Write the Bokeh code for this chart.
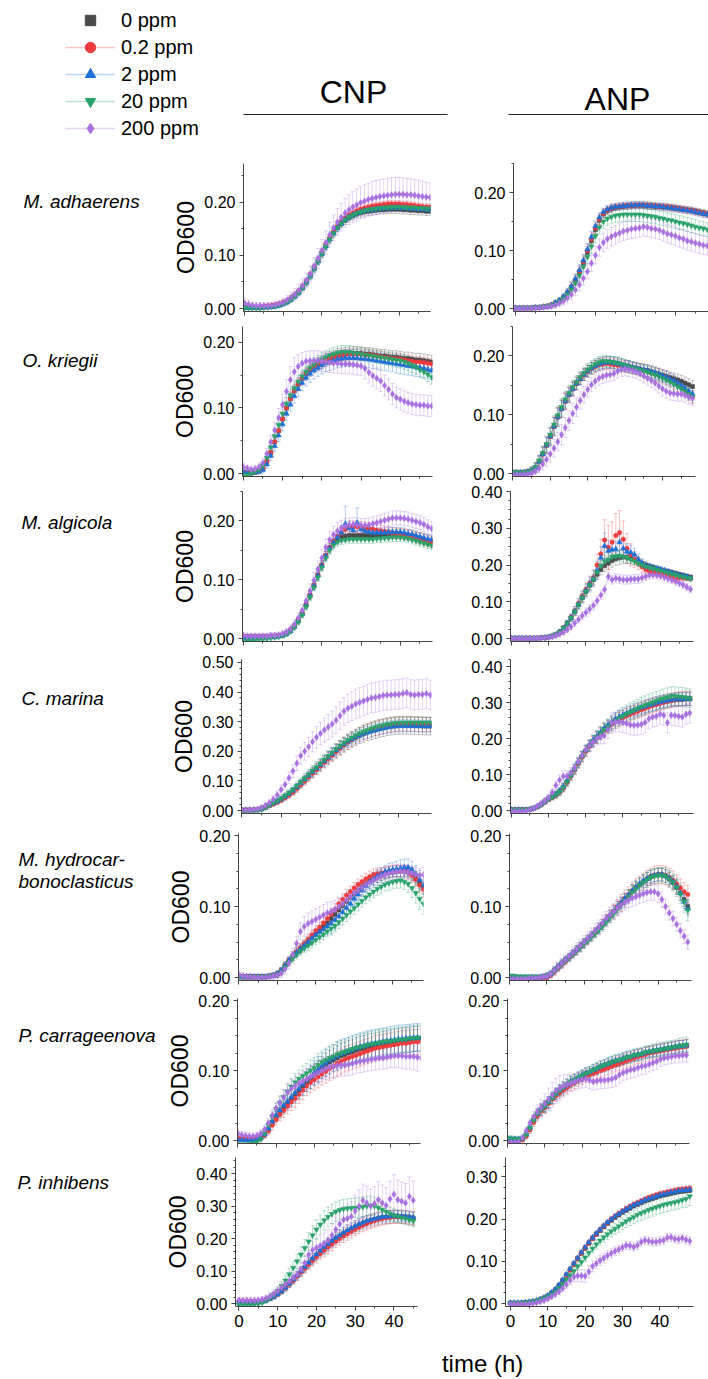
from bokeh.plotting import figure
from bokeh.layouts import column, row
from bokeh.models import (Range1d, FixedTicker, NumeralTickFormatter, Whisker, TeeHead,
                          ColumnDataSource, Legend, LegendItem)
from bokeh.core.properties import value
from bokeh.embed import file_html
from bokeh.resources import INLINE

FONT = "Liberation Sans"
NAN = float("nan")

# ---------------- data (OD600 in units of 0.001) ----------------
hours_48 = [0,1,2,3,4,5,6,7,8,9,10,11,12,13,14,15,16,17,18,19,20,21,22,23,24,25,26,27,28,29,30,31,32,33,34,35,36,37,38,39,40,41,42,43,44,45,46,47,48]
hours_45 = [0,1,2,3,4,5,6,7,8,9,10,11,12,13,14,15,16,17,18,19,20,21,22,23,24,25,26,27,28,29,30,31,32,33,34,35,36,37,38,39,40,41,42,43,44,45]

series_labels = ["0 ppm", "0.2 ppm", "2 ppm", "20 ppm", "200 ppm"]
series_colors = ["#4a4a4a", "#ee3b3e", "#1f6fd8", "#2aa36b", "#a970e0"]
series_markers = ["square", "circle", "triangle", "inverted_triangle", "diamond"]
species_names = ["M. adhaerens", "O. kriegii", "M. algicola", "C. marina",
                 "M. hydrocar-|bonoclasticus", "P. carrageenova", "P. inhibens"]
column_titles = ["CNP", "ANP"]
x_tick_values = [0, 10, 20, 30, 40]
x_minor_values = [5, 15, 25, 35, 45]

# M. adhaerens, CNP
adh_cnp_0 = [2,2,2,2,2,3,3,4,5,7, 10,13,18,24,31,40,50,62,76,90, 104,118,131,142,152,160,166,171,175,178, 180,182,183,184,185,186,186,187,187,187, 187,186,186,185,185,184,184,183,183]
adh_cnp_02 = [3,3,3,3,3,4,5,6,7,9, 12,15,20,26,33,42,52,64,78,92, 106,120,133,145,155,163,170,176,180,184, 187,189,191,193,194,195,196,197,197,197, 197,196,196,195,194,193,192,191,191]
adh_cnp_2 = [1,1,1,1,1,2,2,3,4,6, 9,12,17,23,30,39,49,61,75,89, 103,117,130,142,152,160,167,172,176,179, 182,184,185,186,187,188,189,189,190,190, 190,189,189,188,188,187,187,186,186]
adh_cnp_20 = [1,1,1,1,1,2,2,3,4,6, 9,12,17,23,30,39,49,61,75,89, 103,117,130,142,152,160,167,172,176,179, 182,184,186,187,188,189,190,190,191,191, 191,191,190,190,190,189,189,188,188]
adh_cnp_200 = [10,8,6,5,5,5,5,6,7,9, 12,16,21,27,34,43,53,65,79,94, 109,124,139,152,163,172,180,186,191,195, 199,202,205,207,209,211,212,213,214,215, 215,215,214,214,213,212,211,210,209]
adh_cnp_0_sd = [2,2,2,2,2,2,2,2,2,3, 3,3,4,4,5,5,6,6,7,7, 7,7,8,8,8,8,8,8,8,8, 8,8,8,8,8,8,8,8,8,8, 8,8,8,8,8,8,8,8,8]
adh_cnp_02_sd = [3,3,3,3,3,3,3,3,3,3, 4,4,4,5,5,6,6,6,7,7, 7,7,7,7,6,6,6,6,6,6, 6,6,6,6,6,6,6,6,6,6, 6,6,6,6,6,6,6,6,6]
adh_cnp_2_sd = [2,2,2,2,2,2,2,2,2,3, 3,4,4,5,5,6,7,7,8,8, 8,8,8,7,7,6,6,6,6,6, 6,6,6,6,6,6,6,6,6,6, 6,6,6,6,6,6,6,6,6]
adh_cnp_20_sd = [2,2,2,2,2,2,2,2,2,3, 3,3,4,4,5,5,6,6,6,6, 6,6,6,6,6,5,5,5,5,5, 5,5,5,5,5,5,5,5,5,5, 5,5,5,5,5,5,5,5,5]
adh_cnp_200_sd = [10,8,6,6,6,6,6,6,6,7, 8,9,10,11,12,13,14,15,17,19, 21,22,23,24,25,26,27,28,29,30, 30,31,31,32,32,32,32,32,32,32, 32,31,31,30,30,30,29,28,27]

# M. adhaerens, ANP
adh_anp_0 = [1,1,1,1,1,2,2,3,4,6, 9,13,19,27,37,49,63,79,97,117, 136,152,163,169,172,174,175,176,177,177, 178,178,178,177,177,176,176,175,175,174, 173,172,171,170,169,168,166,165,163]
adh_anp_02 = [1,1,1,1,1,2,2,3,4,6, 9,13,19,27,37,49,64,81,100,120, 139,154,164,170,173,175,176,177,177,178, 178,178,178,178,177,177,176,176,175,174, 173,172,171,170,169,167,166,164,163]
adh_anp_2 = [1,1,1,1,1,2,2,3,4,6, 10,14,20,28,38,51,66,83,102,123, 142,157,166,171,174,175,176,177,177,178, 178,178,178,177,177,176,176,175,174,173, 172,171,170,169,168,166,165,163,162]
adh_anp_20 = [1,1,1,1,1,2,2,3,4,5, 8,12,17,24,33,44,57,72,89,107, 125,140,150,155,158,160,161,162,162,162, 162,162,161,160,159,158,156,155,153,152, 150,148,147,145,143,141,139,138,136]
adh_anp_200 = [0,0,0,0,0,1,1,2,3,4, 6,9,13,18,24,32,41,52,64,78, 92,105,114,120,124,127,130,133,135,137, 138,139,141,140,138,137,135,132,129,127, 125,122,120,117,115,113,111,109,108]
adh_anp_0_sd = [2,2,2,2,2,2,2,2,3,3, 4,4,5,6,7,8,9,10,10,10, 9,8,7,6,6,5,5,5,5,5, 5,5,5,5,5,5,5,5,5,5, 5,5,5,5,5,5,5,5,5]
adh_anp_02_sd = [3,3,3,3,3,3,3,3,3,3, 4,5,6,7,8,9,10,11,11,11, 10,9,8,7,7,6,6,6,6,6, 6,6,6,6,6,6,6,6,6,6, 6,6,6,6,6,6,6,6,6]
adh_anp_2_sd = [2,2,2,2,2,2,2,2,3,3, 4,5,6,7,8,9,10,10,10,10, 9,8,7,6,6,6,6,6,6,6, 6,6,6,6,6,6,6,6,6,6, 6,6,6,6,6,6,6,6,6]
adh_anp_20_sd = [2,2,2,2,2,2,2,2,3,3, 4,5,6,7,8,9,10,11,12,12, 12,12,12,12,12,12,12,12,12,12, 12,12,12,12,12,12,12,12,12,12, 12,12,12,12,12,12,12,12,12]
adh_anp_200_sd = [3,3,3,3,3,3,3,3,4,4, 5,6,7,8,9,10,11,12,13,14, 15,15,16,16,16,16,16,16,16,16, 16,16,16,16,16,16,16,16,16,16, 16,16,16,16,16,16,16,16,16]

# O. kriegii, CNP
kri_cnp_0 = [2,1,1,2,4,8,18,32,48,65, 83,100,114,126,136,145,152,158,163,167, 170,173,176,178,180,181,182,183,183,183, 183,182,182,181,180,179,179,178,177,177, 176,175,175,174,173,173,172,171,170]
kri_cnp_02 = [2,1,1,2,4,8,18,32,48,65, 83,100,114,126,136,145,152,158,163,167, 170,173,175,177,179,180,181,182,182,182, 182,181,181,180,179,178,177,176,175,175, 174,173,172,171,170,170,169,168,167]
kri_cnp_2 = [2,1,1,2,3,6,14,27,42,58, 75,91,105,118,129,138,146,152,157,161, 165,168,170,172,174,175,176,176,176,176, 175,175,174,173,172,171,170,169,168,167, 166,165,164,163,162,161,160,158,157]
kri_cnp_20 = [-3,-2,0,3,6,12,24,40,57,74, 91,106,119,130,140,148,155,161,166,170, 174,177,180,182,184,185,185,185,184,183, 182,181,180,179,178,177,176,175,174,173, 172,170,168,165,162,158,155,151,147]
kri_cnp_200 = [10,8,6,7,10,16,30,48,66,85, 105,125,143,155,163,168,171,172,172,172, 171,170,169,168,168,167,167,167,166,165, 164,160,154,149,145,141,134,128,121,116, 113,110,108,106,105,104,104,103,103]
kri_cnp_0_sd = [3,3,3,3,4,5,6,7,8,9, 10,10,10,10,10,10,10,10,10,10, 10,10,10,10,10,10,10,10,10,10, 10,10,10,10,10,10,10,10,10,10, 10,10,10,10,10,10,10,10,10]
kri_cnp_02_sd = [3,3,3,3,4,5,6,7,7,8, 8,8,8,8,8,8,8,8,8,8, 8,8,8,8,8,8,8,8,8,8, 8,8,8,8,8,8,8,8,8,8, 8,8,8,8,8,8,8,8,8]
kri_cnp_2_sd = [3,3,3,3,4,5,6,7,8,9, 10,10,10,11,12,12,13,13,13,13, 13,13,13,13,13,13,13,13,13,13, 13,13,13,13,13,13,13,13,13,14, 14,14,14,14,14,14,14,14,14]
kri_cnp_20_sd = [4,4,4,4,4,5,6,7,8,9, 10,10,10,10,10,10,10,10,10,10, 10,10,10,10,10,10,10,10,10,10, 10,10,10,10,10,10,10,10,11,11, 11,11,11,11,11,11,11,11,11]
kri_cnp_200_sd = [6,5,5,5,6,7,8,10,12,14, 16,18,20,22,18,16,15,15,15,15, 15,15,15,15,15,15,15,15,15,15, 15,16,16,16,16,16,16,16,16,16, 16,16,16,16,16,16,16,16,16]

# O. kriegii, ANP
kri_anp_0 = [2,2,2,2,3,5,10,20,33,48, 63,80,96,110,123,134,144,153,161,168, 174,179,183,186,188,189,189,188,187,185, 183,182,180,179,177,176,175,173,171,169, 167,165,163,161,159,157,154,151,148]
kri_anp_02 = [2,2,2,2,3,5,10,20,33,48, 63,80,96,110,123,134,144,153,161,168, 174,179,182,185,186,187,186,185,184,183, 182,181,179,178,176,175,173,171,169,167, 165,162,159,155,151,146,141,135,130]
kri_anp_2 = [2,2,2,2,3,5,10,20,33,48, 63,80,96,110,123,134,144,153,161,168, 174,179,183,186,188,189,189,188,187,185, 183,182,180,179,177,176,175,173,171,169, 166,164,161,158,154,150,145,140,135]
kri_anp_20 = [2,2,2,2,3,5,11,22,35,50, 66,83,99,113,126,137,147,156,164,171, 177,182,186,189,191,191,190,189,188,186, 184,182,180,178,176,174,172,170,168,165, 162,159,156,152,148,144,140,135,131]
kri_anp_200 = [-2,-2,-2,-2,-1,1,4,9,16,24, 33,43,54,66,78,90,102,113,124,134, 143,151,157,162,165,167,168,170,174,177, 178,177,175,173,170,166,162,158,154,149, 144,140,137,136,135,135,133,130,128]
kri_anp_0_sd = [3,3,3,3,4,6,8,10,12,14, 15,16,16,15,14,13,12,11,10,10, 10,10,10,10,10,10,10,10,10,10, 10,10,10,10,10,10,10,10,10,10, 10,10,10,10,10,10,10,10,10]
kri_anp_02_sd = [3,3,3,3,4,6,8,10,12,14, 15,16,16,15,14,13,12,11,10,10, 10,10,10,10,10,10,10,10,10,10, 10,10,10,10,10,10,10,11,11,11, 11,11,11,11,11,11,11,11,11]
kri_anp_2_sd = [3,3,3,3,4,6,8,10,12,13, 14,15,15,14,13,12,11,10,10,10, 10,10,10,10,10,10,10,10,10,10, 10,10,10,10,10,10,10,10,10,10, 10,10,10,10,10,10,10,10,10]
kri_anp_20_sd = [3,3,3,3,4,6,8,10,12,14, 15,16,16,15,14,13,12,11,10,10, 10,10,10,10,10,10,10,10,10,10, 10,10,10,10,10,10,10,10,10,10, 10,10,10,10,10,10,10,10,10]
kri_anp_200_sd = [3,3,3,3,4,5,6,8,10,12, 14,15,16,17,17,17,17,16,15,14, 13,12,12,12,12,12,12,12,12,12, 12,12,12,12,12,12,12,12,12,12, 12,12,12,12,12,12,12,12,12]

# M. algicola, CNP
alg_cnp_0 = [3,3,3,3,3,3,3,4,4,5, 6,9,14,21,31,43,58,74,91,108, 125,141,154,163,169,172,174,175,175,175, 175,175,175,175,176,176,177,178,178,178, 178,177,176,175,173,171,169,167,165]
alg_cnp_02 = [3,3,3,3,3,3,3,4,4,5, 6,9,14,21,31,43,58,74,91,108, 125,141,155,166,174,180,186,189,190,190, 189,188,187,186,184,183,182,181,180,179, 178,177,176,174,172,170,168,166,164]
alg_cnp_2 = [2,2,2,2,2,2,2,3,3,4, 5,8,13,20,30,42,57,73,90,107, 124,140,153,163,172,180,195,188,184,197, 186,183,181,180,180,180,180,181,181,181, 181,180,178,177,175,173,171,169,168]
alg_cnp_20 = [-4,-4,-3,-3,-2,-1,0,1,2,3, 5,8,12,19,28,40,54,70,87,104, 121,137,150,159,164,167,168,169,169,169, 169,169,169,169,170,170,171,171,172,172, 172,171,170,168,166,164,162,160,158]
alg_cnp_200 = [5,4,4,4,4,4,4,5,5,6, 8,11,16,24,35,48,64,81,99,118, 137,155,168,177,183,188,191,193,194,193, 192,192,193,195,197,199,201,203,205,205, 205,204,203,201,199,197,194,190,187]
alg_cnp_0_sd = [3,3,3,3,3,3,3,3,3,3, 3,3,4,4,5,5,6,6,7,7, 7,7,7,7,8,8,8,8,8,8, 8,8,8,8,8,8,8,8,8,8, 8,8,8,8,8,9,9,9,9]
alg_cnp_02_sd = [3,3,3,3,3,3,3,3,3,3, 3,4,4,5,5,6,6,7,7,8, 8,8,8,8,9,9,10,10,10,10, 10,10,10,9,9,9,9,9,9,9, 9,9,9,9,9,9,9,9,9]
alg_cnp_2_sd = [3,3,3,3,3,3,3,3,3,3, 3,4,4,5,5,6,6,7,7,8, 8,8,8,8,9,12,30,12,10,25, 10,9,8,8,8,8,8,8,8,8, 8,8,8,8,8,8,8,8,8]
alg_cnp_20_sd = [3,3,3,3,3,3,3,3,3,3, 3,3,4,4,5,5,6,6,6,7, 7,7,7,7,7,7,7,7,7,7, 7,7,7,7,7,7,7,7,7,7, 7,7,7,7,7,7,7,7,7]
alg_cnp_200_sd = [5,5,5,5,5,5,5,5,5,5, 5,6,7,8,9,10,11,12,13,14, 14,14,14,14,14,13,13,12,12,12, 12,12,12,12,12,12,12,12,12,12, 12,12,12,12,12,12,12,12,12]

# M. algicola, ANP
alg_anp_0 = [1,1,1,1,1,1,1,1,2,2, 4,7,11,18,28,41,56,73,92,111, 128,145,160,175,188,198,205,212,217,220, 222,221,218,214,209,204,200,196,193,190, 187,184,182,179,177,174,172,169,167]
alg_anp_02 = [1,1,1,1,1,1,1,1,2,2, 4,7,11,18,28,41,57,75,95,115, 133,150,165,200,230,268,248,262,280,288, 270,245,228,215,205,195,188,182,180,178, 176,173,170,167,160,166,165,164,163]
alg_anp_2 = [1,1,1,1,1,1,1,1,2,2, 4,7,11,18,28,41,56,74,93,112, 130,147,163,185,220,252,238,242,243,262, 245,236,234,228,215,205,198,195,192,190, 188,185,182,179,176,173,170,168,165]
alg_anp_20 = [1,1,1,1,1,1,1,1,2,2, 4,7,11,18,28,41,56,73,92,111, 128,145,162,180,198,210,215,222,224,225, 222,220,215,210,205,200,196,193,190,187, 184,181,178,175,173,170,168,165,163]
alg_anp_200 = [0,0,0,0,0,0,0,1,1,2, 3,5,8,12,17,24,32,42,52,62, 71,80,90,103,118,133,169,160,164,162, 160,160,161,162,162,165,169,172,173,172, 170,167,163,159,155,151,146,140,134]
alg_anp_0_sd = [2,2,2,2,2,2,2,2,2,2, 3,3,4,5,6,7,8,9,10,11, 12,12,13,14,15,16,17,18,18,18, 18,17,15,13,11,10,9,8,8,7, 7,7,6,6,6,6,6,6,6]
alg_anp_02_sd = [2,2,2,2,2,2,2,2,2,2, 3,3,4,5,6,8,10,12,14,16, 18,20,22,30,40,55,60,55,60,60, 50,40,30,22,18,14,12,10,9,8, 8,7,7,7,7,7,7,7,7]
alg_anp_2_sd = [2,2,2,2,2,2,2,2,2,2, 3,3,4,5,6,8,10,12,14,16, 18,20,22,25,30,35,30,25,22,30, 25,22,20,18,15,12,10,9,8,8, 7,7,7,7,7,7,7,7,7]
alg_anp_20_sd = [2,2,2,2,2,2,2,2,2,2, 3,3,4,5,6,7,8,9,10,11, 12,12,13,14,15,15,15,15,14,14, 13,12,11,10,9,9,8,8,8,7, 7,7,7,7,7,7,7,7,7]
alg_anp_200_sd = [2,2,2,2,2,2,2,2,2,2, 3,3,4,5,6,7,8,9,10,11, 12,12,12,12,12,12,12,12,12,12, 12,12,12,12,12,12,11,11,10,10, 10,10,10,10,10,10,10,10,10]

# C. marina, CNP
mar_cnp_0 = [2,2,2,2,3,6,11,18,24,30, 37,46,55,66,78,91,104,117,129,141, 153,166,178,190,202,213,223,232,240,247, 254,260,265,269,273,277,280,283,285,287, 288,288,288,288,287,287,286,285,285]
mar_cnp_02 = [2,2,2,2,3,5,10,16,22,28, 35,43,52,62,74,87,100,113,126,138, 150,163,175,187,199,210,221,231,240,248, 256,263,268,273,277,281,284,287,289,291, 292,292,292,292,291,291,290,290,290]
mar_cnp_2 = [2,2,2,2,3,6,11,18,25,31, 38,47,56,67,79,92,105,118,130,142, 154,167,179,191,203,214,224,233,241,248, 254,260,264,268,272,275,278,281,283,285, 286,286,286,286,286,285,285,285,285]
mar_cnp_20 = [-4,-4,-3,-2,0,4,10,18,26,33, 41,50,60,71,83,96,109,122,135,147, 159,172,184,196,208,219,229,238,246,254, 261,267,272,277,281,285,288,291,293,295, 296,297,297,297,297,297,297,297,297]
mar_cnp_200 = [2,2,2,3,5,10,17,26,38,52, 70,88,110,133,160,185,200,215,232,247, 260,272,282,292,305,320,335,345,352,360, 365,370,375,380,382,385,388,390,390,392, 392,395,398,392,390,392,392,395,390]
mar_cnp_0_sd = [3,3,3,3,3,4,5,6,7,8, 9,10,11,12,13,14,15,16,17,18, 19,20,21,22,23,24,25,26,27,28, 28,29,29,30,30,30,30,30,30,30, 30,30,30,30,30,30,30,30,30]
mar_cnp_02_sd = [3,3,3,3,3,4,5,6,7,8, 9,10,11,12,13,14,15,16,17,18, 19,20,21,22,23,24,24,24,24,24, 24,24,24,24,24,24,24,24,24,24, 24,24,24,24,24,24,24,24,24]
mar_cnp_2_sd = [3,3,3,3,3,4,5,6,7,8, 9,10,10,11,12,13,14,15,16,17, 18,18,19,19,20,20,20,20,20,20, 20,20,20,20,20,20,20,20,20,20, 20,20,20,20,20,20,20,20,20]
mar_cnp_20_sd = [4,4,4,4,4,5,6,7,8,9, 10,11,12,13,14,15,16,17,17,18, 18,18,18,18,18,18,18,18,18,18, 18,18,18,18,18,18,18,18,18,18, 18,18,18,18,18,18,18,18,18]
mar_cnp_200_sd = [4,4,4,4,5,6,8,10,12,14, 16,18,20,22,25,28,30,32,34,36, 38,40,42,44,45,46,47,48,49,50, 50,50,50,50,50,50,50,50,50,50, 50,50,50,50,50,50,50,50,50]

# C. marina, ANP
mar_anp_0 = [2,2,2,2,2,3,6,10,16,24, 32,38,44,52,64,80,97,114,132,150, 166,180,193,204,215,225,234,242,250,256, 261,266,271,275,279,283,287,291,294,297, 300,302,304,306,308,309,309,310,310]
mar_anp_02 = [2,2,2,2,2,3,6,10,16,23, 31,37,43,51,62,78,95,112,130,148, 164,178,191,202,213,223,232,240,247,253, 258,263,268,272,276,280,284,288,292,295, 298,301,304,306,308,310,311,312,312]
mar_anp_2 = [2,2,2,2,2,3,6,11,17,25, 33,39,45,54,66,82,99,116,134,152, 168,182,195,206,217,228,237,246,254,260, 265,270,275,279,283,287,290,293,296,299, 302,304,306,308,309,310,310,311,311]
mar_anp_20 = [2,2,2,2,2,3,6,10,16,24, 32,38,44,52,64,80,97,114,132,150, 166,180,193,204,215,225,234,242,250,257, 263,269,274,279,284,289,293,297,301,305, 309,312,315,318,318,317,316,314,312]
mar_anp_200 = [-2,-2,-2,-2,-1,2,6,12,19,27, 36,50,70,85,95,96,105,118,135,152, 168,180,190,200,205,208,225,243,246,247, 245,242,238,237,238,240,245,255,260,262, 268,265,244,265,264,262,260,268,271]
mar_anp_0_sd = [2,2,2,2,2,3,3,4,5,6, 7,8,9,10,11,12,12,13,13,14, 14,15,15,16,16,17,17,18,18,18, 18,18,18,18,18,18,18,18,18,18, 18,18,18,18,18,18,18,18,18]
mar_anp_02_sd = [2,2,2,2,2,3,3,4,5,6, 7,8,9,10,11,12,12,13,13,14, 14,15,15,16,16,17,17,18,19,20, 20,20,20,20,20,20,20,20,20,20, 20,20,20,20,20,20,20,20,20]
mar_anp_2_sd = [2,2,2,2,2,3,3,4,5,6, 7,8,9,10,11,12,12,13,13,14, 14,15,15,16,16,17,17,18,18,18, 18,18,18,18,18,18,18,18,18,18, 18,18,18,18,18,18,18,18,18]
mar_anp_20_sd = [2,2,2,2,2,3,3,4,5,6, 7,8,9,10,11,12,12,13,13,14, 14,15,16,17,18,19,20,21,22,23, 24,24,25,25,25,26,26,26,26,26, 26,26,26,26,26,26,26,26,26]
mar_anp_200_sd = [3,3,3,3,3,4,5,6,7,8, 9,10,12,14,15,15,14,14,14,14, 14,15,16,18,20,22,25,28,28,28, 28,28,28,28,28,28,28,28,28,28, 28,28,28,28,28,28,28,28,28]

# M. hydrocarbonoclasticus, CNP
hyd_cnp_0 = [2,1,1,1,1,1,1,1,2,3, 5,10,17,24,30,36,41,46,51,56, 61,66,72,77,83,89,95,101,107,113, 118,123,128,132,136,139,142,144,146,148, 149,150,150,150,149,146,140,133,128]
hyd_cnp_02 = [2,1,1,1,1,1,1,1,2,3, 5,10,17,24,30,36,42,48,54,60, 66,71,77,83,89,96,104,110,116,121, 126,131,135,139,142,145,146,147,148,149, 150,150,150,150,148,144,138,130,124]
hyd_cnp_2 = [1,1,1,1,1,1,1,1,2,3, 5,10,17,24,30,35,40,45,50,55, 60,64,68,72,76,81,86,92,98,104, 111,117,123,129,134,139,143,146,149,151, 152,153,154,155,155,152,146,138,130]
hyd_cnp_20 = [1,1,1,1,1,1,1,1,2,3, 4,8,15,21,27,32,37,41,45,49, 53,57,61,65,69,73,78,83,88,93, 98,103,108,113,117,121,125,128,131,133, 135,136,137,135,132,126,119,111,104]
hyd_cnp_200 = [4,2,1,1,0,0,0,0,1,2, 3,6,12,20,32,48,65,72,76,79, 82,85,88,91,93,96,100,104,109,114, 119,123,127,131,134,137,140,143,145,147, 148,149,150,149,148,147,145,144,145]
hyd_cnp_0_sd = [3,3,3,3,3,3,3,3,3,3, 4,4,5,5,6,6,6,6,6,6, 7,7,7,7,8,8,8,8,8,8, 8,8,8,8,8,8,8,8,8,8, 8,8,8,8,8,9,9,10,10]
hyd_cnp_02_sd = [3,3,3,3,3,3,3,3,3,3, 4,4,5,5,6,6,6,6,6,7, 7,7,8,8,8,8,8,8,8,8, 8,8,8,8,8,8,8,8,8,8, 8,8,8,8,8,9,9,10,10]
hyd_cnp_2_sd = [3,3,3,3,3,3,3,3,3,3, 4,4,5,5,6,6,6,6,6,7, 8,9,10,12,14,14,12,10,9,9, 9,9,9,9,9,9,9,9,9,10, 10,11,12,12,12,12,12,13,13]
hyd_cnp_20_sd = [3,3,3,3,3,3,3,3,3,3, 4,4,5,5,6,6,6,6,7,7, 7,8,8,8,9,9,9,9,9,9, 9,9,9,9,9,9,9,9,9,10, 10,10,11,11,12,13,14,15,15]
hyd_cnp_200_sd = [6,5,5,5,5,5,5,5,5,5, 5,6,7,8,9,10,12,14,15,15, 15,15,15,15,14,13,12,11,10,10, 10,10,10,10,10,10,10,10,10,10, 10,10,10,10,10,10,10,10,10]

# M. hydrocarbonoclasticus, ANP
hyd_anp_0 = [1,1,0,0,0,0,0,0,0,1, 2,5,10,15,20,25,29,34,39,44, 49,54,59,64,70,75,81,87,93,99, 105,111,116,122,127,131,135,139,142,144, 145,145,143,139,134,127,119,110,100]
hyd_anp_02 = [0,0,0,0,-1,-1,-1,-1,-1,0, 0,3,8,13,18,23,28,33,38,43, 48,53,58,63,69,75,81,87,93,99, 105,111,116,122,127,131,135,139,142,144, 145,145,144,141,137,132,126,121,117]
hyd_anp_2 = [1,1,0,0,0,0,0,0,0,1, 2,5,10,15,20,25,29,34,39,44, 49,54,59,64,70,75,81,87,93,99, 105,111,116,122,127,132,136,139,142,144, 145,145,143,140,135,128,119,107,97]
hyd_anp_20 = [2,2,1,1,1,1,1,1,1,2, 3,5,9,14,19,24,28,33,38,42, 47,52,57,62,67,72,78,84,90,96, 102,108,114,120,125,130,134,138,141,143, 144,144,143,139,134,127,118,107,95]
hyd_anp_200 = [-2,-2,-2,-2,-2,-1,-1,-1,0,1, 2,5,10,15,20,25,30,35,40,45, 50,55,60,66,71,77,83,88,93,98, 102,106,109,112,114,116,118,120,121,121, 118,110,100,91,83,75,66,58,50]
hyd_anp_0_sd = [3,3,3,3,3,3,3,3,3,3, 4,4,5,5,5,5,5,5,6,6, 6,6,6,6,7,7,7,7,8,8, 8,8,8,9,9,9,9,9,9,9, 9,9,9,9,9,10,10,10,10]
hyd_anp_02_sd = [3,3,3,3,3,3,3,3,3,3, 4,4,5,5,5,5,5,5,6,6, 6,6,6,6,7,7,8,9,10,11, 12,12,12,12,12,12,12,12,12,13, 13,13,13,13,13,13,13,13,13]
hyd_anp_2_sd = [3,3,3,3,3,3,3,3,3,3, 4,4,5,5,5,5,5,5,6,6, 6,6,6,6,7,7,7,7,8,8, 8,8,8,9,9,9,9,9,9,9, 9,9,9,9,9,10,10,10,10]
hyd_anp_20_sd = [3,3,3,3,3,3,3,3,3,3, 4,4,5,5,5,5,5,5,6,6, 6,6,6,6,7,7,7,7,8,8, 8,9,9,10,10,10,11,11,11,11, 11,11,12,12,12,13,14,15,15]
hyd_anp_200_sd = [4,4,4,4,4,4,4,4,4,4, 5,5,6,6,7,7,8,8,9,9, 9,9,10,10,10,10,10,11,11,11, 11,11,11,12,12,12,12,12,12,12, 12,11,11,10,10,10,10,10,10]

# P. carrageenova, CNP
car_cnp_0 = [2,2,2,2,2,3,5,9,16,26, 34,41,48,54,60,66,72,78,84,89, 94,99,104,108,112,115,118,121,123,125, 127,129,131,132,134,135,136,137,138,139, 140,141,142,143,143,144,145,145,146]
car_cnp_02 = [3,3,3,3,3,3,4,8,14,22, 30,37,43,49,55,60,66,72,78,83, 87,91,95,99,103,106,110,113,116,118, 120,122,124,126,128,130,132,133,134,135, 136,137,138,139,139,140,141,141,142]
car_cnp_2 = [1,1,1,1,1,2,4,9,17,27, 36,43,50,56,62,68,74,80,86,91, 97,102,107,111,115,118,121,124,126,128, 130,132,134,135,137,138,139,140,141,142, 143,144,145,145,146,146,147,147,147]
car_cnp_20 = [-6,-6,-6,-5,-4,-2,2,10,22,34, 45,54,62,70,77,83,88,92,96,100, 104,108,112,115,118,120,123,125,127,129, 131,133,134,135,137,138,139,140,141,142, 142,143,144,144,145,146,146,147,147]
car_cnp_200 = [10,8,7,6,6,7,10,16,25,36, 46,54,62,69,74,78,82,85,88,91, 94,97,100,103,105,106,107,108,108,109, 110,112,113,114,115,116,117,118,118,119, 120,121,121,121,120,120,120,119,118]
car_cnp_0_sd = [3,3,3,3,3,3,4,5,6,7, 8,9,10,11,12,13,13,14,14,15, 15,16,16,17,17,17,18,18,18,18, 18,18,18,18,18,18,18,18,18,18, 18,18,18,18,18,18,18,18,18]
car_cnp_02_sd = [4,4,4,4,4,4,4,5,6,7, 8,9,10,11,12,13,13,14,14,15, 15,16,16,17,17,17,18,18,18,18, 18,18,18,18,18,18,18,18,18,18, 18,18,18,18,18,18,18,18,18]
car_cnp_2_sd = [3,3,3,3,3,3,4,5,6,7, 8,9,10,11,12,13,14,15,16,17, 17,18,18,19,19,19,20,20,20,20, 20,20,20,20,20,20,20,20,20,20, 20,20,20,20,20,20,20,20,20]
car_cnp_20_sd = [3,3,3,3,3,3,4,5,6,7, 8,9,10,11,12,13,13,14,14,15, 15,16,16,17,17,17,18,18,18,18, 18,18,18,18,18,18,18,18,18,18, 18,18,18,18,18,18,18,18,18]
car_cnp_200_sd = [6,5,5,5,5,5,5,6,7,8, 9,10,11,12,13,14,14,15,15,16, 16,16,16,16,16,16,16,16,16,16, 16,16,16,16,16,16,16,16,16,16, 16,17,17,18,18,18,19,20,20]

# P. carrageenova, ANP
car_anp_0 = [2,1,1,1,2,8,18,29,38,44, 48,54,60,66,71,75,79,83,86,89, 92,95,97,100,102,105,107,109,111,113, 114,116,118,119,121,122,123,125,126,127, 128,129,130,131,132,133,134,134,135]
car_anp_02 = [0,0,0,0,1,6,15,26,35,42, 47,53,59,64,68,72,76,80,83,86, 89,92,94,96,98,100,102,104,106,108, 110,112,114,116,118,120,121,123,125,126, 127,128,129,130,131,132,133,134,135]
car_anp_2 = [3,2,2,2,3,9,19,30,39,45, 49,55,61,67,72,76,80,84,87,90, 93,96,98,101,103,106,108,110,112,114, 115,117,119,120,122,123,124,126,127,128, 129,130,131,132,133,134,135,135,136]
car_anp_20 = [3,3,2,2,3,8,18,29,38,44, 49,55,61,67,72,76,80,84,87,90, 93,96,98,101,103,106,108,110,112,114, 115,117,119,120,122,123,124,126,127,128, 129,130,131,132,133,134,135,136,137]
car_anp_200 = [-3,-3,-3,-2,4,14,25,34,41,47, 53,59,65,71,75,78,80,82,84,86, 87,88,86,84,85,86,86,87,88,90, 94,97,99,101,102,104,106,107,109,111, 113,116,118,119,120,121,121,122,122]
car_anp_0_sd = [3,3,3,3,3,4,5,6,7,8, 8,8,8,8,8,8,8,8,8,8, 8,8,8,8,8,8,8,8,8,8, 8,8,8,8,8,8,8,8,8,8, 8,8,8,8,8,9,9,9,9]
car_anp_02_sd = [3,3,3,3,3,4,5,6,7,8, 8,8,8,8,8,8,8,9,9,9, 9,9,9,9,10,10,10,10,10,10, 10,10,10,10,10,10,10,10,10,10, 10,10,10,10,10,10,10,10,10]
car_anp_2_sd = [3,3,3,3,3,4,5,6,7,8, 8,8,8,8,8,8,8,8,8,8, 8,8,8,8,8,8,8,8,8,8, 8,8,8,8,8,8,8,8,8,8, 8,8,8,8,8,8,8,8,8]
car_anp_20_sd = [4,4,4,4,4,4,5,6,7,8, 8,8,8,8,8,8,8,8,8,8, 8,8,8,8,8,8,8,9,9,9, 9,9,9,9,9,9,9,9,9,10, 10,10,10,10,10,10,11,11,11]
car_anp_200_sd = [4,4,4,4,4,5,6,8,10,12, 14,16,18,18,18,16,14,12,12,12, 12,12,12,12,12,12,12,12,12,12, 12,12,12,12,12,12,12,12,11,11, 11,10,10,10,10,10,10,10,10]

# P. inhibens, CNP (0-45 h)
inh_cnp_0 = [4,4,4,4,4,5,7,10,15,21, 29,38,48,60,72,85,98,111,124,137, 149,161,172,182,191,200,208,216,223,230, 236,242,247,252,256,259,262,265,266,267, 268,268,268,267,265,263]
inh_cnp_02 = [8,8,7,7,7,7,8,11,16,22, 30,39,49,60,72,84,96,108,120,132, 143,154,164,174,183,192,200,208,215,222, 229,235,241,246,251,255,259,262,264,266, 267,267,267,266,264,261]
inh_cnp_2 = [3,3,3,3,3,4,6,10,15,21, 29,38,49,61,74,87,100,113,126,139, 151,163,174,184,193,202,210,218,225,232, 238,244,249,254,258,261,264,267,268,269, 270,270,269,268,267,265]
inh_cnp_20 = [-4,-4,-4,-4,-3,-1,3,9,17,27, 39,54,71,90,110,130,151,171,191,210, 228,243,256,267,276,283,288,291,293,294, 295,296,298,300,302,300,295,289,283,277, 272,268,264,261,258,255]
inh_cnp_200 = [10,9,9,9,9,10,12,16,22,30, 39,49,59,69,80,90,105,125,150,165, 172,178,185,195,210,228,245,258,262,268, 285,300,318,310,300,308,320,310,302,322, 337,320,315,310,330,318]
inh_cnp_0_sd = [4,4,4,4,4,4,4,5,6,7, 8,9,10,11,12,13,14,15,16,17, 18,19,20,20,20,20,20,20,20,20, 20,20,20,20,20,20,20,20,20,20, 20,20,20,20,20,20]
inh_cnp_02_sd = [4,4,4,4,4,4,4,5,6,7, 8,9,10,11,12,13,14,15,16,17, 18,19,20,20,20,20,20,20,20,20, 20,20,20,20,20,20,20,20,20,20, 20,20,20,20,20,20]
inh_cnp_2_sd = [4,4,4,4,4,4,4,5,6,7, 8,9,10,11,12,13,14,15,16,16, 16,16,16,16,16,16,16,16,16,16, 16,16,16,16,16,16,16,16,16,16, 16,16,16,16,16,16]
inh_cnp_20_sd = [4,4,4,4,4,4,5,6,8,10, 12,14,16,18,20,22,24,26,28,30, 30,30,30,30,30,30,30,30,30,30, 30,30,30,30,30,28,26,24,22,20, 20,18,18,18,18,18]
inh_cnp_200_sd = [10,9,9,9,9,9,9,10,11,12, 13,14,15,16,17,18,20,22,24,26, 28,30,32,34,36,38,40,42,44,46, 48,50,50,52,52,52,55,55,55,55, 60,60,60,60,60,60]

# P. inhibens, ANP
inh_anp_0 = [1,1,1,1,2,3,4,6,9,13, 18,24,32,42,54,67,80,93,106,119, 131,143,154,164,173,182,190,197,204,210, 216,221,226,231,235,239,243,246,249,252, 255,257,259,261,263,265,266,267,268]
inh_anp_02 = [1,1,1,1,2,3,4,6,9,13, 18,24,32,42,54,67,80,94,107,120, 132,144,155,165,175,184,192,200,207,213, 219,225,230,235,239,243,247,251,254,257, 260,262,264,266,268,270,271,272,273]
inh_anp_2 = [2,2,2,2,3,4,5,7,10,14, 19,26,34,44,56,69,82,95,108,121, 133,145,156,166,175,184,192,199,206,212, 218,223,228,233,237,241,245,248,251,254, 257,259,261,263,265,267,268,269,270]
inh_anp_20 = [1,1,1,1,2,3,4,6,8,12, 16,21,28,36,46,57,67,77,88,98, 109,120,130,140,149,157,164,171,177,183, 189,195,200,205,210,214,218,222,225,228, 231,234,236,238,240,242,245,248,254]
inh_anp_200 = [-2,-2,-2,-2,-2,-1,0,2,4,7, 11,16,22,28,36,45,55,63,66,66, 65,75,88,95,102,108,114,119,124,128, 133,138,137,134,138,146,150,148,146,146, 148,150,156,157,153,152,155,151,148]
inh_anp_0_sd = [2,2,2,2,2,2,2,2,3,3, 3,4,4,5,5,5,5,5,5,5, 5,5,5,5,5,5,5,5,5,5, 5,5,5,5,5,5,5,5,5,5, 5,5,5,5,5,5,5,5,5]
inh_anp_02_sd = [2,2,2,2,2,2,2,2,3,3, 3,4,4,5,5,6,6,6,6,6, 6,6,6,6,6,6,6,6,6,6, 6,6,6,6,6,6,6,6,6,6, 6,6,6,6,6,6,6,6,6]
inh_anp_2_sd = [3,3,3,3,3,3,3,3,3,3, 3,4,4,5,5,5,5,5,5,5, 5,5,5,5,5,5,5,5,5,5, 5,5,5,5,5,5,5,5,5,5, 5,5,5,5,5,5,5,5,5]
inh_anp_20_sd = [2,2,2,2,2,2,2,2,3,3, 3,4,4,5,6,7,8,9,10,10, 10,10,10,11,11,12,12,13,13,14, 14,15,15,16,16,17,17,18,18,18, 18,18,18,18,18,18,18,20,22]
inh_anp_200_sd = [3,3,3,3,3,3,3,3,3,3, 4,5,6,7,8,9,10,12,14,15, 15,14,13,12,12,12,11,11,10,10, 10,10,10,10,10,10,10,10,10,10, 10,10,10,10,10,10,10,10,10]

G = globals()
SPECIES_KEYS = ["adh", "kri", "alg", "mar", "hyd", "car", "inh"]
SERIES_KEYS = ["0", "02", "2", "20", "200"]

# ---------------- layout (pixel geometry, page origin = top-left) ----------------
PAGE_W = 708
HEADER_H = 150
TOP_B = [13, 9, 9, 12, 14, 12, 8]
FRAME_H = [148, 150, 150, 154, 147, 145, 149]
BOT_B = [6, 6, 6, 6, 6, 6, 28]
ROW_TOP = [150, 317, 482, 647, 819, 986, 1149]
TIME_H = 44
SP_W = 160
CNP_X0, CNP_W = 160, 300
ANP_X0, ANP_W = 460, 248
CNP_L = [243, 242, 242, 241, 238, 237, 235]
CNP_R = [430, 432, 432, 431, 423, 420, 417]
ANP_L = [513, 512, 510, 510, 509, 507, 505]
ANP_R = [708, 695, 693, 693, 691, 689, 693]
CNP_XR = [(-0.3, 48.1), (-0.2, 48.2), (-0.2, 48.2), (-0.1, 48.3), (-0.1, 48.0), (-0.1, 47.8), (-0.9, 46.1)]
ANP_XR = [(-0.5, 48.3), (-0.1, 48.8), (-0.2, 48.8), (-0.2, 49.0), (-0.1, 49.0), (0.0, 48.8), (-1.3, 49.0)]
CNP_YEND = [0.273, 0.224, 0.25, 0.51, 0.203, 0.203, 0.45]
ANP_YEND = [0.25, 0.25, 0.40, 0.42, 0.203, 0.203, 0.346]
CNP_MINOR = [0.05, 0.05, 0.05, 0.02, 0.025, 0.025, 0.02]
ANP_MINOR = [0.05, 0.05, 0.025, 0.02, 0.025, 0.025, 0.025]
SP_X = [23, 22, 21, 21, 18, 18, 17]
SP_Y = [[193], [354], [516], [690], [848, 873], [1028], [1180]]
AXIS_COLOR = "#444444"
MARKER_SIZES = [4, 4.5, 5.5, 5.5, 6.5]


def style_axes(p, bottom_labels, ylabel):
    xa = p.xaxis[0]
    ya = p.yaxis[0]
    for ax in (xa, ya):
        ax.axis_line_color = AXIS_COLOR
        ax.axis_line_width = 1
        ax.major_tick_line_color = AXIS_COLOR
        ax.minor_tick_line_color = AXIS_COLOR
        ax.major_tick_in = 0
        ax.major_tick_out = 4
        ax.minor_tick_in = 0
        ax.minor_tick_out = 2
        ax.major_label_text_font = FONT
        ax.major_label_text_color = "black"
    xa.ticker = FixedTicker(ticks=x_tick_values, minor_ticks=x_minor_values)
    if bottom_labels:
        xa.major_label_text_font_size = "17px"
        xa.major_label_standoff = 4
    else:
        xa.major_label_text_font_size = "0px"
        xa.major_label_standoff = 0
        xa.major_label_overrides = {v: "" for v in x_tick_values}
    ya.major_label_text_font_size = "16px"
    ya.major_label_standoff = 4
    ya.formatter = NumeralTickFormatter(format="0.00")
    if ylabel:
        ya.axis_label = ylabel
        ya.axis_label_text_font = FONT
        ya.axis_label_text_font_size = "23px"
        ya.axis_label_text_font_style = "normal"
        ya.axis_label_text_color = "black"
        ya.axis_label_standoff = 2


def panel(r, col):
    sp = SPECIES_KEYS[r]
    if col == "cnp":
        fl, fr, x0, W = CNP_L[r], CNP_R[r], CNP_X0, CNP_W
        xr, yend, mstep = CNP_XR[r], CNP_YEND[r], CNP_MINOR[r]
    else:
        fl, fr, x0, W = ANP_L[r], ANP_R[r], ANP_X0, ANP_W
        xr, yend, mstep = ANP_XR[r], ANP_YEND[r], ANP_MINOR[r]
    bt, fh, bb = TOP_B[r], FRAME_H[r], BOT_B[r]
    H = bt + fh + bb
    ystart = -3.0 * yend / (fh - 3)
    p = figure(width=W, height=H, x_range=Range1d(*xr), y_range=Range1d(ystart, yend),
               output_backend="svg", toolbar_location=None, title=None,
               min_border_left=fl - x0, min_border_right=(x0 + W) - fr,
               min_border_top=bt, min_border_bottom=bb)
    p.outline_line_color = None
    p.xgrid.visible = False
    p.ygrid.visible = False
    majors = [round(k * 0.1, 2) for k in range(0, int(yend / 0.1 + 1e-6) + 1)]
    nmin = int(round(yend / mstep))
    minors = [round(k * mstep, 3) for k in range(0, nmin + 1)]
    style_axes(p, r == 6, "OD600" if col == "cnp" else None)
    p.yaxis[0].ticker = FixedTicker(ticks=majors, minor_ticks=minors)

    t = hours_45 if (sp == "inh" and col == "cnp") else hours_48
    sources = []
    for k, sk in enumerate(SERIES_KEYS):
        vals = [v / 1000.0 for v in G["%s_%s_%s" % (sp, col, sk)]]
        sds = [v / 1000.0 for v in G["%s_%s_%s_sd" % (sp, col, sk)]]
        src = ColumnDataSource(dict(t=t, v=vals,
                                    lo=[a - b for a, b in zip(vals, sds)],
                                    up=[a + b for a, b in zip(vals, sds)]))
        sources.append(src)
    for k, src in enumerate(sources):
        c = series_colors[k]
        w = Whisker(source=src, base="t", lower="lo", upper="up", dimension="height",
                    line_color=c, line_alpha=0.4, line_width=0.8,
                    upper_head=TeeHead(size=4, line_color=c, line_alpha=0.4, line_width=0.8),
                    lower_head=TeeHead(size=4, line_color=c, line_alpha=0.4, line_width=0.8))
        p.add_layout(w)
    for k, src in enumerate(sources):
        p.line("t", "v", source=src, line_color=series_colors[k], line_alpha=0.3, line_width=1)
    for k, src in enumerate(sources):
        p.scatter("t", "v", source=src, marker=series_markers[k], size=MARKER_SIZES[k],
                  fill_color=series_colors[k], line_color=series_colors[k], line_width=0.5)
    return p


def blank_fig(w, h, xr, yr, bl=0, bt=0):
    p = figure(width=w, height=h, x_range=Range1d(*xr), y_range=Range1d(*yr),
               output_backend="svg", toolbar_location=None, title=None,
               x_axis_type=None, y_axis_type=None,
               min_border_left=bl, min_border_right=0, min_border_top=bt, min_border_bottom=0)
    p.outline_line_color = None
    p.grid.visible = False
    return p


def species_fig(r):
    H = TOP_B[r] + FRAME_H[r] + BOT_B[r]
    p = blank_fig(SP_W, H, (0, SP_W), (ROW_TOP[r] + H, ROW_TOP[r]))
    parts = species_names[r].split("|")
    p.text(x=[SP_X[r]] * len(parts), y=SP_Y[r], text=parts, text_font=value(FONT),
           text_font_style="italic", text_font_size="19px", text_align="left",
           text_baseline="middle", text_color="black")
    return p


# ---------------- header (legend + column titles) ----------------
hdr = blank_fig(PAGE_W, HEADER_H, (63, PAGE_W), (HEADER_H, 5), bl=63, bt=5)
items = []
for k in range(5):
    rs = []
    if k > 0:
        rs.append(hdr.line(x=[NAN], y=[NAN], line_color=series_colors[k], line_alpha=0.3, line_width=1.5))
    rs.append(hdr.scatter(x=[NAN], y=[NAN], marker=series_markers[k], size=10,
                          fill_color=series_colors[k], line_color=series_colors[k]))
    items.append(LegendItem(label=series_labels[k], renderers=rs))
legend = Legend(items=items, location="top_left", margin=2, padding=0, spacing=1,
                glyph_width=50, glyph_height=26, label_height=26, label_standoff=6,
                label_text_font=FONT, label_text_font_size="20px", label_text_color="black",
                border_line_color=None, background_fill_alpha=0)
hdr.add_layout(legend)
hdr.text(x=[353, 617], y=[91.5, 98], text=column_titles, text_font=value(FONT),
         text_font_size="32px", text_align="center", text_baseline="middle", text_color="black")
hdr.segment(x0=[243, 508], y0=[114, 114], x1=[447, 708], y1=[114, 114],
            line_color="#222222", line_width=1)

# ---------------- time label ----------------
t_top = ROW_TOP[6] + TOP_B[6] + FRAME_H[6] + BOT_B[6]
tfig = blank_fig(PAGE_W, TIME_H, (0, PAGE_W), (t_top + TIME_H, t_top))
tfig.text(x=[460], y=[1363], text=["time (h)"], text_font=value(FONT), text_font_size="24px",
          text_align="center", text_baseline="middle", text_color="black")

rows = [hdr]
for r in range(7):
    rows.append(row(species_fig(r), panel(r, "cnp"), panel(r, "anp"), spacing=0))
rows.append(tfig)
layout = column(*rows, spacing=0)

open("out.html", "w").write(file_html(layout, INLINE))
